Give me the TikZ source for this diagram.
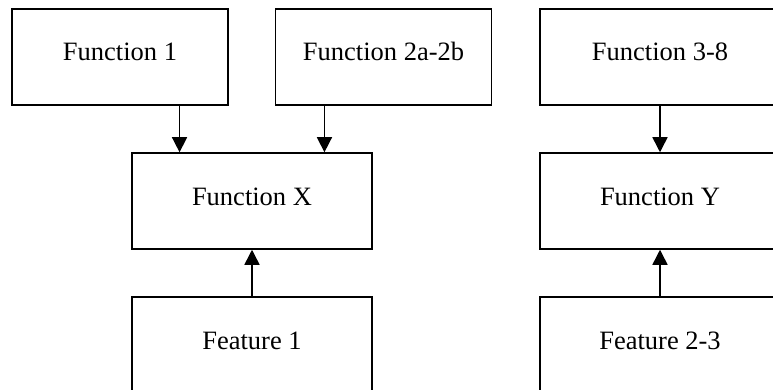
\documentclass[tikz,border=0pt]{standalone}
\usepackage{fontspec}
\setmainfont{Liberation Serif}
\usetikzlibrary{arrows.meta,calc}
\begin{document}
\begin{tikzpicture}[x=1pt,y=-1pt,
  box/.style={draw=black,line width=1.5pt,rectangle,minimum height=96pt,
    inner sep=0pt,text height=18pt,text depth=10pt,
    font=\fontsize{26.5}{31}\selectfont},
  narrowbox/.style={box,minimum width=216pt},
  widebox/.style={box,minimum width=240pt},
  arr/.style={line width=1.5pt,-{Triangle[length=15pt,width=15pt]}}]
\useasboundingbox (0,0) rectangle (773,390);
\clip (0,0) rectangle (773,390);
% top row of functions
\node[narrowbox] (f1) at (120,57) {Function 1};
\node[narrowbox] (f2) at (383.5,57) {Function 2a-2b};
\node[widebox] (f3) at (660,57) {Function 3-8};
% middle row
\node[widebox] (fx) at (252,201) {Function X};
\node[widebox] (fy) at (660,201) {Function Y};
% features
\node[widebox] (ft1) at (252,345) {Feature 1};
\node[widebox] (ft2) at (660,345) {Feature 2-3};
% arrow targets on Function X
\coordinate (a1) at ($(fx.north west)!0.2!(fx.north east)$);
\coordinate (a2) at ($(fx.north west)!0.8!(fx.north east)$);
\draw[arr] (f1.south -| a1) -- (a1);
\draw[arr] (f2.south -| a2) -- (a2);
\draw[arr] (f3.south) -- (fy.north);
\draw[arr] (ft1.north) -- (fx.south);
\draw[arr] (ft2.north) -- (fy.south);
\end{tikzpicture}
\end{document}
